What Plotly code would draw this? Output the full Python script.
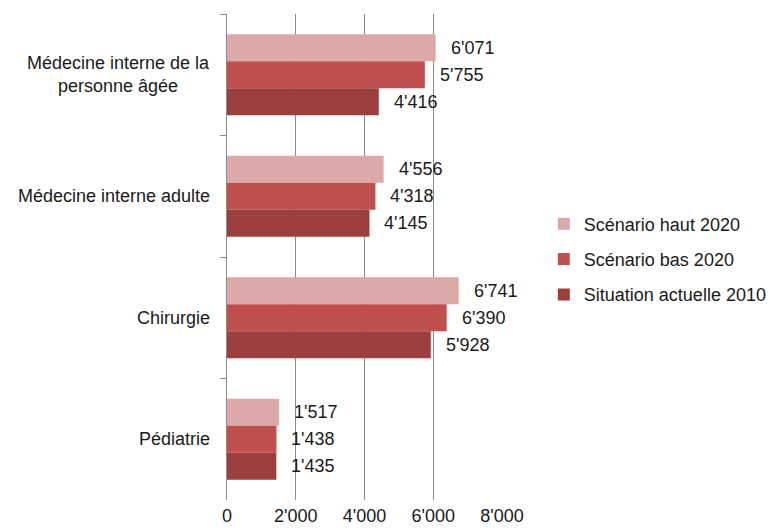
import plotly.graph_objects as go

categories = ["Médecine interne de la personne âgée", "Médecine interne adulte", "Chirurgie", "Pédiatrie"]
category_labels = ["Médecine interne de la<br>personne âgée", "Médecine interne adulte", "Chirurgie", "Pédiatrie"]
series_names = ["Scénario haut 2020", "Scénario bas 2020", "Situation actuelle 2010"]
haut_2020 = [6071, 4556, 6741, 1517]
bas_2020 = [5755, 4318, 6390, 1438]
actuelle_2010 = [4416, 4145, 5928, 1435]
colors = ["#DBA9A8", "#C0504D", "#9D3F3C"]
x_ticks = [0, 2000, 4000, 6000, 8000]
x_tick_text = ["0", "2'000", "4'000", "6'000", "8'000"]

FONT = "Liberation Sans, Arial, sans-serif"
TEXT = "#1a1a1a"
SIZE = 18


def fmt(v):
    return f"{v:,}".replace(",", "'")


fig = go.Figure()
for name, vals, col in zip(series_names, [haut_2020, bas_2020, actuelle_2010], colors):
    fig.add_trace(go.Bar(
        y=categories, x=vals, name=name, orientation="h",
        legendgroup=name,
        marker=dict(color=col, line=dict(width=0)),
    ))

# value labels just to the right of each bar
annotations = []
n = len(series_names)
for i, vals in enumerate([haut_2020, bas_2020, actuelle_2010]):
    for j, v in enumerate(vals):
        annotations.append(dict(
            x=v, y=j + (i - (n - 1) / 2) * (2 / 3) / n, xref="x", yref="y",
            text=fmt(v), showarrow=False, xanchor="left", yanchor="middle",
            xshift=13, font=dict(family=FONT, size=SIZE, color=TEXT),
        ))

# category labels, centred on several lines
for j, lab in enumerate(category_labels):
    annotations.append(dict(
        x=0, y=j, xref="paper", yref="y", text=lab, showarrow=False,
        xanchor="right", yanchor="middle", align="center", xshift=-15,
        font=dict(family=FONT, size=SIZE, color=TEXT),
    ))

fig.update_layout(
    width=773, height=528,
    margin=dict(l=227, r=271, t=14, b=28, autoexpand=False),
    paper_bgcolor="white", plot_bgcolor="white",
    barmode="group", bargap=1 / 3, bargroupgap=0,
    font=dict(family=FONT, size=SIZE, color=TEXT),
    annotations=annotations,
    legend=dict(
        x=1.152, y=0.495, xanchor="left", yanchor="middle",
        font=dict(family=FONT, size=SIZE, color=TEXT),
        itemwidth=30, tracegroupgap=9, traceorder="grouped",
    ),
    showlegend=True,
)
fig.update_xaxes(
    range=[0, 8000], tickvals=x_ticks, ticktext=x_tick_text,
    showgrid=True, gridcolor="#8a8a8a", gridwidth=1,
    zeroline=False, showline=False, ticks="",
    ticklabelstandoff=3,
    tickfont=dict(family=FONT, size=SIZE, color=TEXT),
)
fig.update_yaxes(
    autorange="reversed", showticklabels=False,
    showline=True, linecolor="#8a8a8a", linewidth=1,
    ticks="outside", tickson="boundaries", ticklen=6, tickcolor="#8a8a8a",
    showgrid=False, zeroline=False,
)

fig.write_html("out.html")
